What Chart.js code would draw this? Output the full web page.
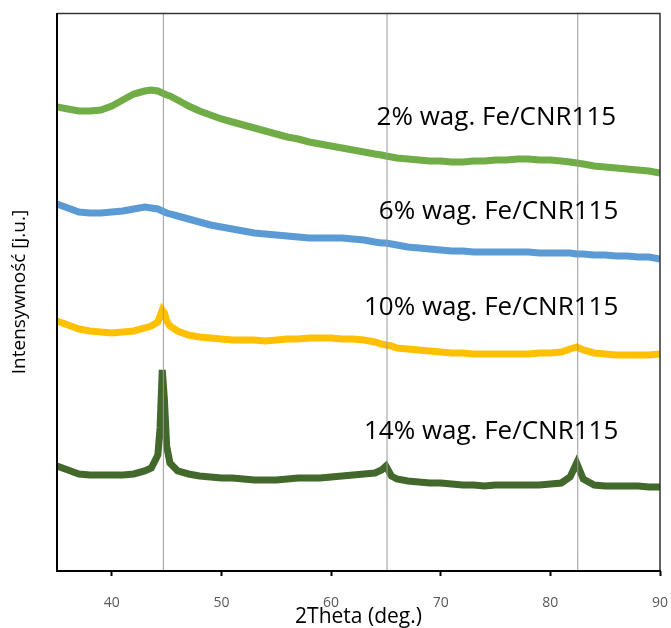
<!DOCTYPE html>
<html>
<head>
<meta charset="utf-8">
<script src="https://cdn.jsdelivr.net/npm/chart.js@4"></script>
<style>
  html, body { margin: 0; padding: 0; background: #fff; }
  #wrap { width: 671px; height: 628px; }
</style>
</head>
<body>
<div id="wrap"><canvas id="xrd" width="671" height="628"></canvas></div>
<script>
// 2Theta grid (deg.), shared by all four patterns
const twoTheta = [35,36,37,38,39,40,41,42,43,43.6,44.2,44.4,44.6,44.8,45,45.3,
  46,47,48,49,50,51,52,53,54,55,56,57,58,59,60,61,62,63,64,64.6,65,65.5,
  66,67,68,69,70,71,72,73,74,75,76,77,78,79,80,81,81.8,82.4,83,84,85,86,87,88,89,90];

// intensities (arbitrary units, patterns already offset as in the figure)
const fe2 = [464,462,460,460,461,465,471,477,480,481,480,479,478,477,476,475,
  471,465,460,456,452,449,446,443,440,437,434,432,429,427,425,423,421,419,417,416,415,414,
  413,412,411,410,410,409,409,410,410,411,411,412,412,411,411,410,409,408,407,405,404,403,402,401,400,398];
const fe6 = [367,363,359,358,358,359,360,362,364,363,362,361,360,359,358,357,
  355,352,349,346,344,342,340,338,337,336,335,334,333,333,333,333,332,331,329,328,328,327,
  326,324,323,322,321,320,320,319,319,319,319,319,319,318,318,318,318,317,317,316,316,315,315,314,314,312];
const fe10 = [250,246,242,240,239,238,239,240,243,245,249,255,261,258,250,245,
  240,236,234,233,232,231,231,231,230,231,232,232,233,233,233,232,232,231,229,227,226,225,
  223,222,221,220,219,218,218,217,217,217,217,217,217,218,218,219,222,224,221,218,217,216,216,216,216,217];
const fe14 = [105,101,97,96,96,96,96,97,100,103,116,143,201,171,125,108,
  100,97,95,94,93,93,92,91,91,91,92,93,93,93,94,95,96,97,98,101,105,95,
  92,90,89,88,88,87,86,86,85,86,86,86,86,86,87,88,94,108,92,86,85,85,85,85,84,84];

const seriesNames = ['2% wag. Fe/CNR115', '6% wag. Fe/CNR115', '10% wag. Fe/CNR115', '14% wag. Fe/CNR115'];
const seriesValues = [fe2, fe6, fe10, fe14];
const seriesColors = ['#70ad47', '#5b9bd5', '#ffc000', '#43682b'];

// reference positions of the Fe reflections
const peakLines = [44.7, 65.1, 82.5];

const xTicks = [40, 50, 60, 70, 80, 90];

const datasets = [];

peakLines.forEach(function(p) {
    datasets.push({
        data: [{x: p, y: 0}, {x: p, y: 558}],
        borderColor: '#9a9a9a',
        borderWidth: 1,
        pointRadius: 0,
        order: 0
    });
});

seriesValues.forEach(function(vals, i) {
    datasets.push({
        label: seriesNames[i],
        data: vals.map((v, k) => ({x: twoTheta[k], y: v})),
        borderColor: seriesColors[i],
        borderWidth: 7,
        pointRadius: 0,
        tension: 0,
        order: 1
    });
});

// text next to each pattern: [right edge in deg., intensity]
const labelAnchors = [[86.0, 453], [86.2, 359], [86.2, 263], [86.2, 139]];

const seriesLabels = {
    id: 'seriesLabels',
    afterDatasetsDraw(chart) {
        const ctx = chart.ctx;
        const xs = chart.scales.x, ys = chart.scales.y;
        ctx.save();
        ctx.font = '26px "Open Sans", sans-serif';
        ctx.fillStyle = '#000';
        ctx.textAlign = 'right';
        ctx.textBaseline = 'middle';
        seriesNames.forEach(function(name, i) {
            ctx.fillText(name, xs.getPixelForValue(labelAnchors[i][0]), ys.getPixelForValue(labelAnchors[i][1]));
        });
        ctx.restore();
    }
};

// box: thin top and right border, heavier left and bottom axis
const frame = {
    id: 'frame',
    afterDraw(chart) {
        const a = chart.chartArea, ctx = chart.ctx;
        ctx.save();
        ctx.strokeStyle = '#333';
        ctx.lineWidth = 1.5;
        ctx.beginPath();
        ctx.moveTo(a.left, a.top + 0.5);
        ctx.lineTo(a.right, a.top + 0.5);
        ctx.lineTo(a.right, a.bottom);
        ctx.stroke();
        ctx.strokeStyle = '#000';
        ctx.lineWidth = 2;
        ctx.beginPath();
        ctx.moveTo(a.left, a.top);
        ctx.lineTo(a.left, a.bottom);
        ctx.lineTo(a.right + 1, a.bottom);
        ctx.stroke();
        ctx.restore();
    }
};

new Chart(document.getElementById('xrd').getContext('2d'), {
    type: 'line',
    data: { datasets: datasets },
    options: {
        responsive: false,
        animation: false,
        layout: { padding: { top: 13, right: 11, left: 0, bottom: 0 } },
        plugins: { legend: { display: false }, tooltip: { enabled: false } },
        scales: {
            x: {
                type: 'linear',
                min: 35,
                max: 90,
                afterBuildTicks: function(scale) {
                    scale.ticks = xTicks.map(v => ({value: v}));
                },
                afterFit: function(scale) {
                    scale.height = 57;
                    scale.paddingLeft = 0;
                    scale.paddingRight = 0;
                },
                grid: { display: true, drawOnChartArea: false, drawTicks: true, tickLength: 5, color: '#000', tickWidth: 2 },
                border: { display: false },
                ticks: { color: '#595959', font: { family: 'Open Sans', size: 14 }, padding: 19, maxRotation: 0 },
                title: { display: true, text: '2Theta (deg.)', color: '#000', font: { family: 'Open Sans', size: 21 }, padding: { top: 0, bottom: -2 } }
            },
            y: {
                min: 0,
                max: 558,
                afterFit: function(scale) { scale.width = 57; },
                grid: { display: false },
                border: { display: false },
                ticks: { display: false },
                title: { display: true, text: 'Intensywność [j.u.]', color: '#000', font: { family: 'Open Sans', size: 19 }, padding: { top: 8, bottom: 0 } }
            }
        }
    },
    plugins: [seriesLabels, frame]
});
</script>
</body>
</html>
